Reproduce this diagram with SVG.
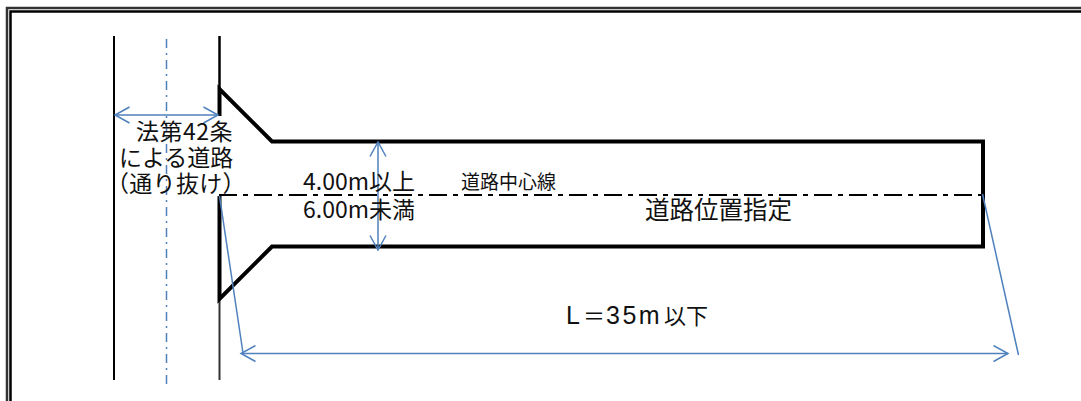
<svg xmlns="http://www.w3.org/2000/svg" width="1081" height="401" viewBox="0 0 1081 401">
<style>
.k{stroke:#000;fill:none}
.b{stroke:#4f81bd;fill:none;stroke-width:1.5}
.t{font-family:"Noto Sans CJK JP","Liberation Sans",sans-serif;fill:#111;font-size:23px}
.l{font-family:"Liberation Sans","Noto Sans CJK JP",sans-serif;font-size:25px}
</style>
<defs>
<marker id="ah" viewBox="-16 -9 18 18" markerWidth="18" markerHeight="18" refX="0" refY="0" orient="auto-start-reverse" markerUnits="userSpaceOnUse"><path d="M-14.500-8L0 0L-14.500 8" fill="none" stroke="#4f81bd" stroke-width="1.500"/></marker>
</defs>
<rect width="1081" height="401" fill="#fff"/>
<g id="frame">
<path d="M1081 8H7V401" class="k" stroke-width="2.500" style="stroke:#333"/>
<path d="M1081 11.500H10.500V401" class="k" stroke-width="2.500"/>
</g>
<g id="roads">
<path d="M114 36V380" class="k" stroke-width="2"/>
<path d="M219.500 36V88" class="k" stroke-width="2.500"/>
<path d="M219.500 300V380" class="k" stroke-width="2" style="stroke:#333"/>
<path d="M166.500 39V389" class="b" stroke-dasharray="9 5 2 5"/>
</g>
<g id="site">
<path d="M219.500 116V89L272 141.500H983V246.500H272L219.500 299V196" class="k" stroke-width="4"/>
<path d="M219 195H982" class="k" stroke-width="2" stroke-dasharray="18 6 5 6"/>
</g>
<g id="connectors">
<path d="M115 115H218" class="b" marker-start="url(#ah)" marker-end="url(#ah)"/>
<path d="M378 142V250" class="b" marker-start="url(#ah)" marker-end="url(#ah)"/>
<path d="M241 353.500H1008" class="b" marker-start="url(#ah)" marker-end="url(#ah)"/>
<path d="M219.500 196L243 353" class="b"/>
<path d="M982.500 194L1018.500 355" class="b"/>
</g>
<g id="labels">
<text x="136" y="140" class="t" style="letter-spacing:.5px">法第42条</text>
<text x="119" y="166" class="t">による道路</text>
<text x="106" y="192" class="t" style="letter-spacing:.3px">（通り抜け）</text>
<text x="303" y="190" class="t">4.00m以上</text>
<text x="303" y="218" class="t">6.00m未満</text>
<text x="461" y="189" class="t" style="font-size:19px">道路中心線</text>
<text x="645" y="219" class="t" style="font-size:24.500px">道路位置指定</text>
<text y="324" class="t" style="font-size:22px"><tspan x="566" class="l">L</tspan><tspan x="583">＝</tspan><tspan x="606" class="l" style="letter-spacing:2.500px">35m</tspan><tspan x="664">以下</tspan></text>
</g>
</svg>
